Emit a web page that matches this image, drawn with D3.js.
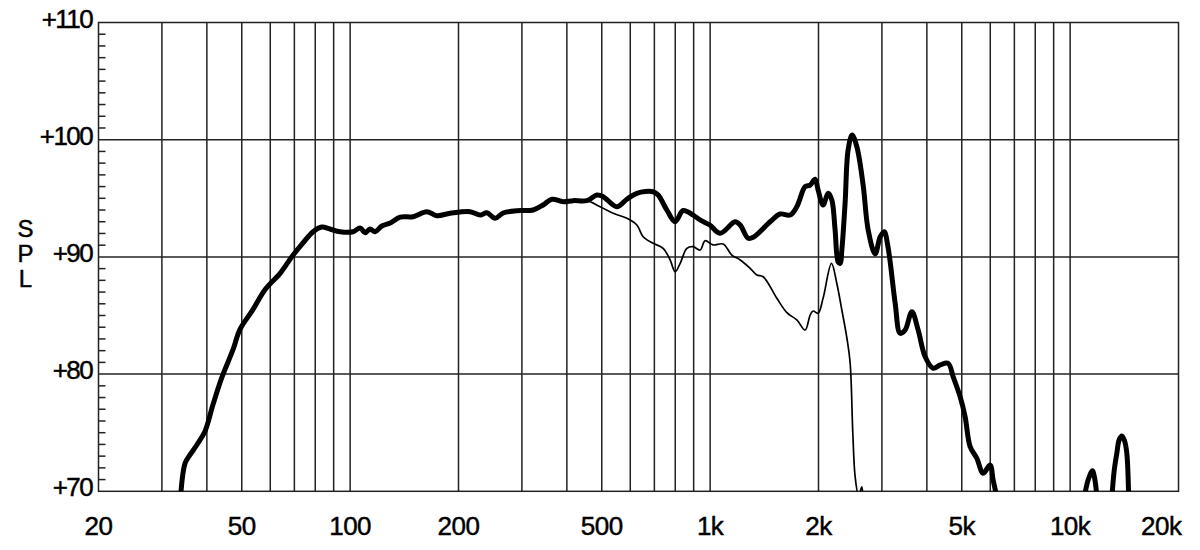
<!DOCTYPE html>
<html>
<head>
<meta charset="utf-8">
<script src="https://cdn.jsdelivr.net/npm/d3@7"></script>
<style>
  html, body { margin: 0; padding: 0; background: #fff; }
  svg { display: block; }
  text { font-family: "Liberation Sans", Arial, Helvetica, sans-serif; fill: #000; stroke: #000; stroke-width: 0.45px; }
</style>
</head>
<body>
<svg id="chart" width="1200" height="550"></svg>
<script>
// ---- Data ----
const xTickValues = [20, 50, 100, 200, 500, 1000, 2000, 5000, 10000, 20000];
const xTickLabels = ["20", "50", "100", "200", "500", "1k", "2k", "5k", "10k", "20k"];
const yTickValues = [70, 80, 90, 100, 110];
const yTickLabels = ["+70", "+80", "+90", "+100", "+110"];
const yAxisTitle = ["S", "P", "L"];

// Thick curve (on-axis response); null separates disconnected pieces
const thickFreq = [33.8, 34.8, 35.9, 37.5, 39.5, 41.6, 44.0, 47.3, 49.4, 53.7, 58.0, 63.9, 68.8, 74.0, 78.9, 83.4, 87.9,
  93.8, 101.9, 106.6, 110.1, 113.6, 117.3, 122.5, 129.2, 137.7, 149.6, 163.3, 174.1, 189.6, 215.4, 229.7, 239.8,
  252.8, 266.1, 290.4, 322.3, 343.6, 363.4, 390.6, 416.4, 454.6, 484.6, 504.5, 550.7, 587.0, 625.8, 694.6, 717.2,
  758.1, 799.6, 841.4, 897.2, 937.9, 998, 1066, 1173, 1212, 1275, 1317, 1468, 1565, 1668, 1741, 1836, 1896, 1957,
  1995, 2060, 2127, 2178, 2224, 2267, 2297, 2322, 2371, 2417, 2480, 2556, 2661, 2748, 2873, 2967, 3044, 3123, 3266,
  3372, 3481, 3634, 3783, 3956, 4164, 4355, 4583, 4732, 4949, 5109, 5275, 5507, 5732, 5995, 6111, 6260,
  6300,
  10950, 11220, 11530, 11700, 11870,
  12000,
  13060, 13260, 13480, 13680, 13920, 14170, 14370, 14540];
const thickSPL = [69.5, 72.4, 73.1, 73.95, 75.1, 77.4, 79.7, 82.1, 83.8, 85.5, 87.2, 88.6, 90.0, 91.2, 92.15, 92.55, 92.38,
  92.15, 92.15, 92.47, 92.06, 92.38, 92.15, 92.64, 92.89, 93.4, 93.43, 93.86, 93.52, 93.72, 93.86, 93.57, 93.77,
  93.29, 93.75, 93.94, 94.0, 94.43, 94.92, 94.71, 94.8, 94.8, 95.28, 95.14, 94.28, 94.92, 95.43, 95.56, 95.28,
  94.0, 93.0, 93.96, 93.57, 93.15, 92.72, 92.01, 93.0, 92.72, 91.59, 91.67, 93.0, 93.66, 93.57, 94.28, 95.99, 96.13, 96.62,
  95.71, 94.43, 95.43, 94.86, 92.3, 89.59, 89.45, 90.59, 94.6, 99.12, 100.4, 99.4, 96.13, 92.3, 90.25, 91.7, 92.15, 90.76, 86.04,
  83.48, 83.76, 85.32, 83.76, 81.48, 80.5, 80.78, 80.92, 79.78, 78.07, 76.37, 73.81, 72.81, 71.54, 72.24, 70.96, 69.5,
  null,
  69.5, 70.96, 71.76, 71.1, 69.5,
  null,
  69.5, 71.8, 73.24, 74.38, 74.72, 74.29, 73.24, 69.5];

// Thin curve (off-axis response)
const thinFreq = [416.4, 454.6, 494.9, 537.9, 587.0, 625.8, 651.5, 694.6, 740.4, 774.3, 799.6, 825.6, 861.8, 897.2, 937.9,
  968.5, 1019, 1087, 1149, 1212, 1292, 1348, 1404, 1532, 1634, 1741, 1836, 1896, 1932, 1995, 2060, 2173, 2248,
  2322, 2398, 2449, 2491, 2528, 2585, 2638, 2655];
const thinSPL = [94.8, 94.8, 94.28, 93.72, 93.29, 92.72, 91.72, 91.16, 90.73, 89.74, 88.74, 89.45, 90.73, 90.87, 90.59,
  91.38, 91.02, 91.1, 90.16, 89.74, 89.03, 88.46, 88.31, 86.47, 85.24, 84.62, 83.76, 85.04, 85.38, 85.19, 86.49, 89.45, 87.75,
  85.47, 83.08, 80.92, 74.95, 71.25, 69.6, 70.37, 69.6];

// ---- Layout ----
const svg = d3.select("#chart");
const pLeft = 98.5, pRight = 1178.5, pTop = 22.5, pBottom = 491.3;

const x = d3.scaleLog().domain([20, 20000]).range([pLeft, pRight]);
const y = d3.scaleLinear().domain([70, 110]).range([pBottom, pTop]);

const gridColor = "#222";

// vertical grid lines (1-2-...-9 per decade)
const vLines = [];
[10, 100, 1000, 10000].forEach(dec => {
  for (let m = 1; m <= 9; m++) {
    const f = dec * m;
    if (f > 20 && f <= 10000) vLines.push(f);
  }
});
svg.append("g").selectAll("line").data(vLines).join("line")
  .attr("x1", d => x(d)).attr("x2", d => x(d))
  .attr("y1", pTop).attr("y2", pBottom)
  .attr("stroke", gridColor).attr("stroke-width", 1.5);

// horizontal grid lines
svg.append("g").selectAll("line").data([80, 90, 100]).join("line")
  .attr("x1", pLeft).attr("x2", pRight)
  .attr("y1", d => y(d)).attr("y2", d => y(d))
  .attr("stroke", gridColor).attr("stroke-width", 1.5);

// minor dB ticks on left axis
const minor = d3.range(71, 110).filter(v => v % 10 !== 0);
svg.append("g").selectAll("line").data(minor).join("line")
  .attr("x1", pLeft).attr("x2", pLeft + 7)
  .attr("y1", d => y(d)).attr("y2", d => y(d))
  .attr("stroke", gridColor).attr("stroke-width", 1.5);

// frame
svg.append("rect")
  .attr("x", pLeft).attr("y", pTop)
  .attr("width", pRight - pLeft).attr("height", pBottom - pTop)
  .attr("fill", "none").attr("stroke", gridColor).attr("stroke-width", 1.5);

// y tick labels
svg.append("g").selectAll("text").data(yTickValues).join("text")
  .attr("x", 92).attr("y", d => y(d) + 5)
  .attr("text-anchor", "end")
  .attr("font-size", 26)
  .attr("letter-spacing", -1.6)
  .text((d, i) => yTickLabels[i]);

// x tick labels
svg.append("g").selectAll("text").data(xTickValues).join("text")
  .attr("x", (d, i) => i === xTickValues.length - 1 ? x(d) + 3 : x(d))
  .attr("y", 535)
  .attr("text-anchor", (d, i) => i === xTickValues.length - 1 ? "end" : "middle")
  .attr("font-size", 26)
  .attr("letter-spacing", -0.5)
  .text((d, i) => xTickLabels[i]);

// axis title, stacked letters
svg.append("g").selectAll("text").data(yAxisTitle).join("text")
  .attr("x", 25.5).attr("y", (d, i) => 237 + i * 25)
  .attr("text-anchor", "middle")
  .attr("font-size", 24)
  .text(d => d);

// clip for curves
svg.append("clipPath").attr("id", "plotclip")
  .append("rect").attr("x", pLeft).attr("y", pTop - 5)
  .attr("width", pRight - pLeft).attr("height", pBottom - pTop + 5);

const line = d3.line()
  .defined(d => d.s !== null)
  .x(d => x(d.f)).y(d => y(d.s))
  .curve(d3.curveCatmullRom.alpha(0.5));

const thinData = thinFreq.map((f, i) => ({ f, s: thinSPL[i] }));
const thickData = thickFreq.map((f, i) => ({ f, s: thickSPL[i] }));

const curves = svg.append("g").attr("clip-path", "url(#plotclip)");
curves.append("path").datum(thinData)
  .attr("d", line).attr("fill", "none")
  .attr("stroke", "#000").attr("stroke-width", 1.7)
  .attr("stroke-linejoin", "round");
curves.append("path").datum(thickData)
  .attr("d", line).attr("fill", "none")
  .attr("stroke", "#000").attr("stroke-width", 5)
  .attr("stroke-linejoin", "round").attr("stroke-linecap", "round");
</script>
</body>
</html>
